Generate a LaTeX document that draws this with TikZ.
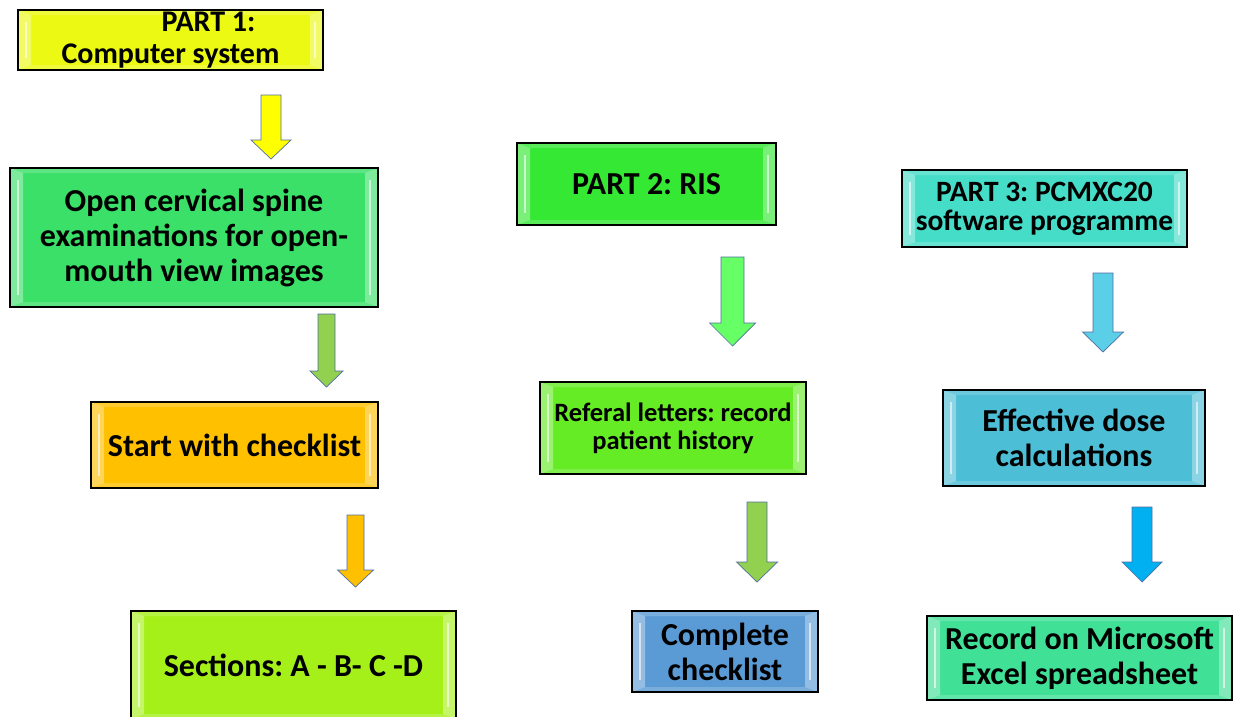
\documentclass[tikz,border=0pt]{standalone}
\usepackage{fontspec}
\setmainfont{Carlito}
\usetikzlibrary{calc}
\frenchspacing

\definecolor{cYellow}{RGB}{236,249,18}
\definecolor{cGreenA}{RGB}{58,224,104}
\definecolor{cOrange}{RGB}{255,192,0}
\definecolor{cLime}{RGB}{166,240,26}
\definecolor{cGreenB}{RGB}{52,232,52}
\definecolor{cGreenC}{RGB}{102,236,36}
\definecolor{cBlue}{RGB}{91,155,213}
\definecolor{cTeal}{RGB}{70,221,200}
\definecolor{cSky}{RGB}{76,190,214}
\definecolor{cMint}{RGB}{64,224,150}
\definecolor{aYellow}{RGB}{255,255,0}
\definecolor{aGreen}{RGB}{146,208,80}
\definecolor{aOrange}{RGB}{255,192,0}
\definecolor{aLight}{RGB}{102,255,102}
\definecolor{aSky}{RGB}{91,207,232}
\definecolor{aBlue}{RGB}{0,176,240}
\definecolor{aEdge}{RGB}{80,110,160}

\begin{document}
\begin{tikzpicture}[x=1pt,y=-1pt]
\tikzset{
  % bevelled box: coloured face, light side bevels, black frame
  bevelbox/.style={
    draw=black, line width=1.6pt, fill=#1, inner sep=0pt, align=center,
    font=\bfseries\fontsize{32}{35}\selectfont,
    path picture={
      \coordinate (nw) at (path picture bounding box.north west);
      \coordinate (ne) at (path picture bounding box.north east);
      \coordinate (sw) at (path picture bounding box.south west);
      \coordinate (se) at (path picture bounding box.south east);
      \fill[white,opacity=0.35] (nw) -- (sw) -- ([shift={(13pt,5pt)}]sw) -- ([shift={(13pt,-5pt)}]nw) -- cycle;
      \fill[white,opacity=0.35] (ne) -- (se) -- ([shift={(-13pt,5pt)}]se) -- ([shift={(-13pt,-5pt)}]ne) -- cycle;
      \fill[white,opacity=0.18] (nw) -- (ne) -- ([shift={(-13pt,-5pt)}]ne) -- ([shift={(13pt,-5pt)}]nw) -- cycle;
      \fill[white,opacity=0.18] (sw) -- (se) -- ([shift={(-13pt,5pt)}]se) -- ([shift={(13pt,5pt)}]sw) -- cycle;
      \draw[white,opacity=0.6,line width=2pt] ([shift={(8pt,-12pt)}]nw) -- ([shift={(8pt,12pt)}]sw);
      \draw[white,opacity=0.6,line width=2pt] ([shift={(-8pt,-12pt)}]ne) -- ([shift={(-8pt,12pt)}]se);
    }},
  blockarrow/.style={draw=aEdge, line width=0.7pt, line join=miter, fill=#1},
  % downward block arrow: shaft half width, head half width, shaft length, head length
  pics/downarrow/.style n args={5}{code={
    \draw[blockarrow=#1] (-#2,0) -- (#2,0) -- (#2,#4) -- (#3,#4) -- (0,#4+#5)
      -- (-#3,#4) -- (-#2,#4) -- cycle;
  }}
}
\useasboundingbox (0,0) rectangle (1238,716);

% Part 1 column
\node[bevelbox=cYellow, minimum width=305pt, minimum height=60pt,
      font=\bfseries\fontsize{30}{32}\selectfont] (p1) at (170.5,40)
  {\hspace*{76pt}PART 1:\\Computer system};
\node[bevelbox=cGreenA, minimum width=368pt, minimum height=139pt] (open) at (194,237.5)
  {Open cervical spine\\examinations for open-\\mouth view images};
\node[bevelbox=cOrange, minimum width=287pt, minimum height=86pt] (start) at (234.5,445)
  {Start with checklist};
\node[bevelbox=cLime, minimum width=325pt, minimum height=108pt] (sect) at (293.5,665)
  {Sections: A - B- C -D};

% Part 2 column
\node[bevelbox=cGreenB, minimum width=259pt, minimum height=82pt] (p2) at (646.5,184)
  {PART 2: RIS};
\node[bevelbox=cGreenC, minimum width=266pt, minimum height=92pt,
      font=\bfseries\fontsize{26.5}{28}\selectfont] (refer) at (673,428)
  {Referal letters: record\\patient history};
\node[bevelbox=cBlue, minimum width=186pt, minimum height=81pt] (done) at (725,651.5)
  {Complete\\checklist};

% Part 3 column
\node[bevelbox=cTeal, minimum width=285pt, minimum height=77pt,
      font=\bfseries\fontsize{29.5}{29}\selectfont] (p3) at (1044.5,208.5)
  {PART 3: PCMXC20\\software programme};
\node[bevelbox=cSky, minimum width=262pt, minimum height=96pt] (dose) at (1074,438)
  {Effective dose\\calculations};
\node[bevelbox=cMint, minimum width=305pt, minimum height=84pt] (excel) at (1079.5,658)
  {Record on Microsoft\\Excel spreadsheet};

% block arrows between the steps
\coordinate (a1) at (271,95);
\coordinate (a2) at (326.5,314);
\coordinate (a3) at (355.5,515);
\coordinate (a4) at (732.5,257);
\coordinate (a5) at (757,502);
\coordinate (a6) at (1103,273);
\coordinate (a7) at (1142,507);
\pic at (a1) {downarrow={aYellow}{10}{20}{45}{19}};
\pic at (a2) {downarrow={aGreen}{8.5}{16.5}{57}{16}};
\pic at (a3) {downarrow={aOrange}{8.5}{18}{55}{17}};
\pic at (a4) {downarrow={aLight}{11.5}{23}{66}{23}};
\pic at (a5) {downarrow={aGreen}{10}{20.5}{60}{20}};
\pic at (a6) {downarrow={aSky}{10}{20.5}{59}{20}};
\pic at (a7) {downarrow={aBlue}{10}{20}{55}{20}};
\end{tikzpicture}
\end{document}
